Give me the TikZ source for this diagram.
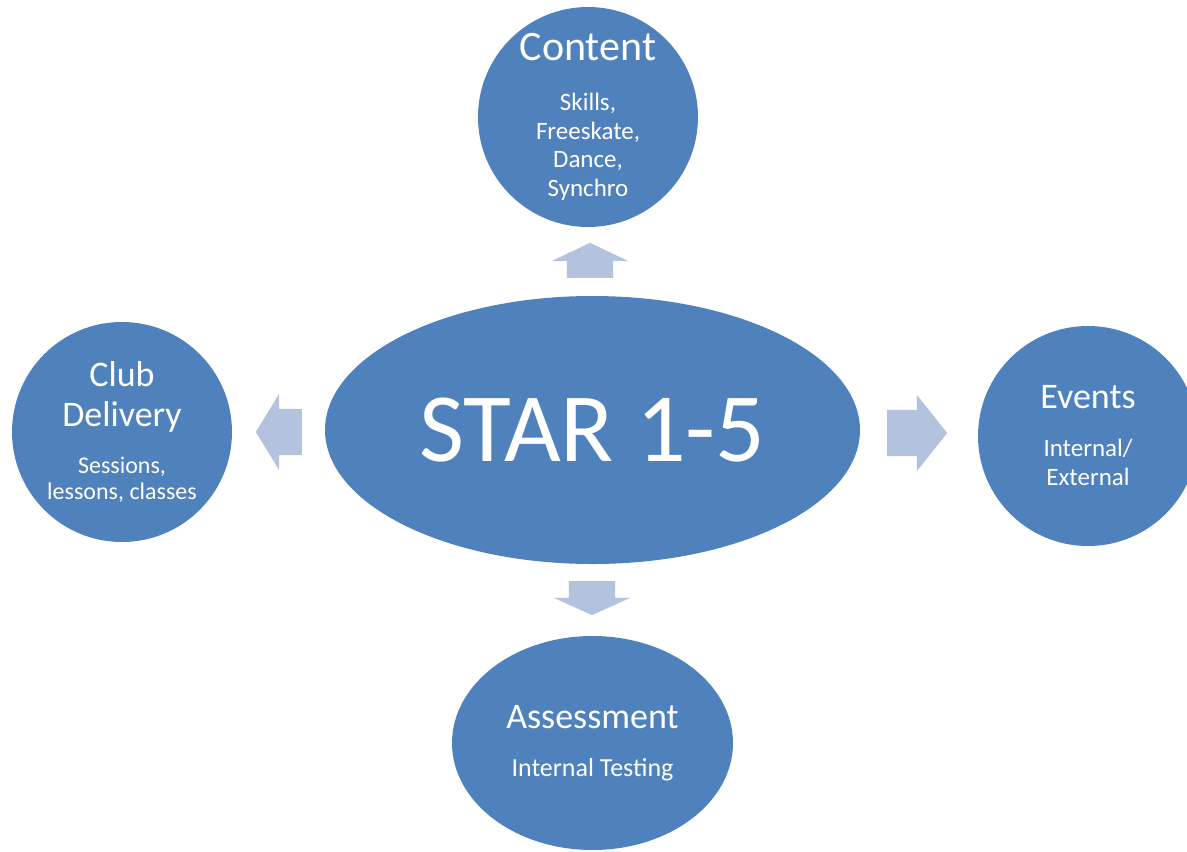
\documentclass[tikz,border=0pt]{standalone}
\usepackage{fontspec}
\setmainfont{Carlito}
\usepackage{xcolor}
\usepackage{tikz}
\usetikzlibrary{shapes.geometric,shapes.arrows}
\definecolor{starblue}{HTML}{4F81BD}
\definecolor{starpale}{HTML}{B3C3DE}
\pgfkeys{tikz/starbubble/.style={circle,fill=starblue,text=white,inner sep=0pt,minimum size=220pt,align=center}}
\pgfkeys{tikz/starblob/.style={ellipse,fill=starblue,text=white,inner sep=0pt,align=center}}
\pgfkeys{tikz/stararrow/.style={single arrow,fill=starpale,draw=none,inner xsep=0pt,inner ysep=23pt,minimum width=76pt,single arrow head extend=15pt,anchor=tail}}
\pgfkeys{tikz/stararrowv/.style={stararrow,inner xsep=23pt,inner ysep=0pt}}
\newcommand*\bubbletitle[2][36]{{\fontsize{#1}{#1}\selectfont #2}}
\newcommand*\bubblesub[2]{\fontsize{#1}{#2}\selectfont}

\begin{document}
\begin{tikzpicture}[x=1pt,y=-1pt]
    \useasboundingbox (0,0) rectangle (1187,852);
    % centre
    \node[starblob,minimum width=535pt,minimum height=268pt] (star) at (592.5,430)
        {\bubbletitle[98]{STAR 1-5}};
    % the four bubbles
    \node[starbubble,font=\bubblesub{25}{28.5}] (content) at (588,117)
        {\bubbletitle[42]{Content}\\[21.5pt] Skills,\\ Freeskate,\\ Dance,\\ Synchro};
    \node[starbubble,font=\bubblesub{24}{26}] (club) at (122,432)
        {\bubbletitle{Club}\\[14pt] \bubbletitle{Delivery}\\[21pt] Sessions,\\ lessons, classes};
    \node[starbubble,font=\bubblesub{25}{29}] (events) at (1088,436)
        {\bubbletitle{Events}\\[19pt] Internal/\\ External};
    \node[starblob,minimum width=281pt,minimum height=214pt,font=\bubblesub{26}{29}] (assess) at (592.5,743)
        {\bubbletitle{Assessment}\\[19pt] Internal Testing};
    % block arrows
    \node[stararrowv,minimum height=35pt,single arrow tip angle=129,shape border rotate=90] (upArrow) at (590,278) {};
    \node[stararrow,minimum height=46pt,single arrow tip angle=117,shape border rotate=180] (leftArrow) at (302,432) {};
    \node[stararrow,minimum height=60pt,single arrow tip angle=103] (rightArrow) at (887,433) {};
    \node[stararrowv,minimum height=34pt,single arrow tip angle=131,shape border rotate=270] (downArrow) at (592,581) {};
\end{tikzpicture}
\end{document}
